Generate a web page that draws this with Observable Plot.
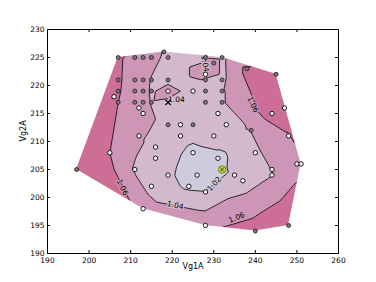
<!DOCTYPE html>
<html><head><meta charset="utf-8">
<script src="https://cdn.jsdelivr.net/npm/d3@7"></script>
<script src="https://cdn.jsdelivr.net/npm/@observablehq/plot@0.6"></script>
<style>html,body{margin:0;padding:0;background:#fff} svg{display:block}</style>
</head><body><div id="chart"></div>
<script>
// measurement points (Vg1A, Vg2A), contoured value, marker kind
const xs = [207,211,213,215,218,219,228,230,232,238,245,228,
            207,211,213,215,219,228,232,
            207,211,213,215,219,225,228,232,206,
            207,211,213,215,219,228,232,
            212,213,231,244,247,
            219,222,225,233,239,
            212,222,230,248,
            216,205,225,240,216,231,
            211,232,244,250,251,197,
            219,226,235,244,237,215,224,228,
            213,228,240,248];
const ys = [225,225,225,225,226,225,225,224,225,223,222,222,
            221,221,221,221,221,221,221,
            219,219,219,219,219,219,219,219,218,
            217,217,217,217,217,217,217,
            216,215,215,215,216,
            213,213,213,213,212,
            211,211,211,211,
            209,208,208,208,207,207,
            205,205,205,206,206,205,
            204,204,204,204,203,202,202,201,
            198,195,194,195];
const zs = [1.064,1.050,1.047,1.045,1.039,1.036,1.039,1.050,1.036,1.065,1.080,1.043,
            1.063,1.050,1.046,1.039,1.036,1.039,1.035,
            1.062,1.050,1.046,1.038,1.046,1.034,1.035,1.038,1.066,
            1.060,1.050,1.046,1.039,1.037,1.035,1.038,
            1.047,1.046,1.035,1.070,1.075,
            1.034,1.037,1.032,1.038,1.0405,
            1.043,1.028,1.030,1.058,
            1.033,1.060,1.014,1.037,1.033,1.014,
            1.038,1.015,1.0405,1.050,1.052,1.100,
            1.023,1.010,1.025,1.0395,1.030,1.034,1.016,1.0205,
            1.050,1.055,1.070,1.080];
const kinds = ["g","g","g","g","g","g","g","g","g","g","g","w",
               "g","g","g","g","g","g","g",
               "g","g","g","g","w","w","g","g","w",
               "g","g","g","g","x","g","g",
               "w","w","w","w","w",
               "g","w","g","w","g",
               "w","w","w","w",
               "w","w","w","w","w","w",
               "w","s","w","w","w","g",
               "w","w","w","w","w","w","w","w",
               "w","w","g","g"];

const xDomain = [190, 260];
const yDomain = [190, 230];
const xTicks = [190, 200, 210, 220, 230, 240, 250, 260];
const yTicks = [190, 195, 200, 205, 210, 215, 220, 225, 230];
const levels = [1.02, 1.04, 1.06];
const bandColors = ["#cecbdc", "#d3b9ce", "#cd96b6", "#cd6e97"];

// inline contour labels
const labelX = [221.0, 227.9, 239.4, 208.0, 220.7, 230.1, 235.5];
const labelY = [217.5, 223.9, 216.6, 201.8, 198.6, 202.4, 196.4];
const labelLevel = [1.04, 1.04, 1.06, 1.06, 1.04, 1.02, 1.06];
const labelRotate = [0, 80, 65, 65, 12, -48, -22];

const points = xs.map((x, i) => ({x, y: ys[i], z: zs[i], kind: kinds[i]}));
const labels = labelX.map((x, i) => ({x, y: labelY[i], level: labelLevel[i], rotate: labelRotate[i]}));

// convex hull of the samples (region covered by the triangulation)
const hull = d3.polygonHull(points.map(d => [d.x, d.y]));
const n = hull.length;
let iL = 0, iR = 0;
hull.forEach((p, i) => { if (p[0] < hull[iL][0]) iL = i; if (p[0] > hull[iR][0]) iR = i; });
const chainA = [], chainB = [];
for (let i = iL; ; i = (i + 1) % n) { chainA.push(hull[i]); if (i === iR) break; }
for (let i = iR; ; i = (i + 1) % n) { chainB.push(hull[i]); if (i === iL) break; }
const upperFirst = d3.mean(chainA, p => p[1]) > d3.mean(chainB, p => p[1]);
const upper = (upperFirst ? chainA : chainB).slice().sort((a, b) => a[0] - b[0]);
const lower = (upperFirst ? chainB : chainA).slice().sort((a, b) => a[0] - b[0]);
const xmin = hull[iL][0], xmax = hull[iR][0];
// masks spanning the whole frame width, overlapping beyond the hull ends
const upperMask = [[xDomain[0], yDomain[0]], [xmin, yDomain[0]], ...upper, [xmax, yDomain[0]], [xDomain[1], yDomain[0]]];
const lowerMask = [[xDomain[0], hull[iL][1]], ...lower, [xDomain[1], hull[iR][1]]];

const mL = 47, mR = 38, mT = 29, mB = 29, W = 376, Hh = 282;
const FW = W - mL - mR, FH = Hh - mT - mB;
const tick = 3;

const chart = Plot.plot({
  width: W, height: Hh,
  marginLeft: mL, marginRight: mR, marginTop: mT, marginBottom: mB,
  x: {domain: xDomain},
  y: {domain: yDomain},
  color: {type: "threshold", domain: levels, range: bandColors},
  style: {fontFamily: "DejaVu Sans", fontSize: "7.5px", background: "white", color: "black"},
  marks: [
    Plot.contour(points, {x: "x", y: "y", fill: "z", interpolate: "barycentric",
      thresholds: [0.9, ...levels], pixelSize: 1, stroke: "none"}),
    Plot.contour(points, {x: "x", y: "y", value: "z", interpolate: "barycentric",
      thresholds: levels, pixelSize: 1, stroke: "black", strokeWidth: 0.8, fill: "none"}),
    // white outside the triangulated hull
    Plot.areaY(upperMask, {x: d => d[0], y1: d => d[1], y2: () => yDomain[1], fill: "white"}),
    Plot.areaY(lowerMask, {x: d => d[0], y1: () => yDomain[0], y2: d => d[1], fill: "white"}),
    Plot.text(labels, {x: "x", y: "y", text: d => d3.format(".2f")(d.level), rotate: "rotate",
      fill: "black", stroke: d => d.level - 0.005, strokeWidth: 2.5, fontSize: 7.5}),
    Plot.dot(points.filter(d => d.kind === "g"), {x: "x", y: "y", r: 2, fill: "#7a7a7a", stroke: "#1a1a1a", strokeWidth: 0.8}),
    Plot.dot(points.filter(d => d.kind === "w"), {x: "x", y: "y", r: 2.2, fill: "white", stroke: "black", strokeWidth: 0.9}),
    Plot.dot(points.filter(d => d.kind === "x"), {x: "x", y: "y", symbol: "times", r: 2.6, stroke: "black", strokeWidth: 1.2}),
    Plot.dot(points.filter(d => d.kind === "s"), {x: "x", y: "y", r: 3.8, fill: "#c2d634", stroke: "#6f7d14", strokeWidth: 0.8}),
    Plot.dot(points.filter(d => d.kind === "s"), {x: "x", y: "y", symbol: "times", r: 2, stroke: "#333", strokeWidth: 0.9}),
    Plot.frame({stroke: "black", strokeWidth: 1}),
    Plot.tickX(xTicks, {x: d => d, insetTop: FH - tick, stroke: "black"}),
    Plot.tickX(xTicks, {x: d => d, insetBottom: FH - tick, stroke: "black"}),
    Plot.tickY(yTicks, {y: d => d, insetRight: FW - tick, stroke: "black"}),
    Plot.tickY(yTicks, {y: d => d, insetLeft: FW - tick, stroke: "black"}),
    Plot.axisX(xTicks, {tickSize: 0, tickPadding: 4, label: null}),
    Plot.axisY(yTicks, {tickSize: 0, tickPadding: 3, label: null}),
    Plot.text(["Vg1A"], {text: d => d, frameAnchor: "bottom", dy: 15, fontSize: 8}),
    Plot.text(["Vg2A"], {text: d => d, frameAnchor: "left", dx: -24, rotate: -90, fontSize: 8})
  ]
});
document.getElementById("chart").appendChild(chart);
</script>
</body></html>
